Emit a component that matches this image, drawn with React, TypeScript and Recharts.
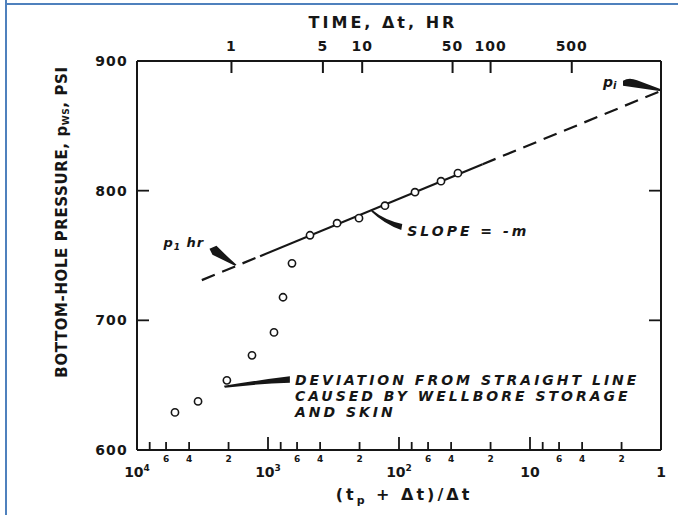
import React from 'react';
import { ComposedChart, XAxis, YAxis, Scatter, ReferenceDot } from 'recharts';

// Horner buildup plot: shut-in bottom-hole pressure vs. Horner time ratio
const producingTime = 1900; // t_p, hr

// Horner ratio (t_p + Δt)/Δt for each measured shut-in point
const hornerRatio = [5130, 3420, 2060, 1325, 900, 768, 656, 478, 297, 202, 128, 75.5, 47.8, 35.5];
// Measured shut-in pressure, psi
const shutInPressure = [629, 637.5, 653.7, 673, 690.7, 717.8, 744, 765.6, 774.9, 778.8, 788.4, 798.8, 807.3, 813.5];

// Semilog straight line: extrapolated (dashed) ends and the fitted (solid) middle
const lineRatio = [3200, 1150, 23, 1];
const linePressure = [731, 749.5, 820.4, 877];

// Annotation anchors
const initialPressure = 877; // p_i at ratio 1
const oneHourPressure = 740.5; // p_1hr at Δt = 1 hr
const slopeAnchorRatio = 160;
const slopeAnchorPressure = 785.1;
const deviationAnchorIndex = 2;

// Axis ticks
const pressureTicks = [600, 700, 800, 900];
const rightPressureTicks = [700, 800];
const hornerTicks = [1, 2, 4, 6, 8, 10, 20, 40, 60, 80, 100, 200, 400, 600, 800, 1000, 2000, 4000, 6000, 8000, 10000];
const shutInHourTicks = [1, 5, 10, 50, 100, 500];

const points = hornerRatio.map((r, i) => ({ r, p: shutInPressure[i] }));
const lineAll = lineRatio.map((r, i) => ({ r, p: linePressure[i] }));
const lineLeft = lineAll.slice(0, 2);
const lineMid = lineAll.slice(1, 3);
const lineRight = lineAll.slice(2, 4);
const topTicks = shutInHourTicks.map((h) => (producingTime + h) / h);

const INK = '#161616';
const FONT = '"DejaVu Sans", "Liberation Sans", sans-serif';

const HornerTick = (props: any) => {
  const { x, y, payload } = props;
  const v = payload.value;
  const e = Math.log10(v);
  const major = Math.abs(e - Math.round(e)) < 1e-6;
  const lead = Math.round(v / Math.pow(10, Math.floor(e + 1e-6)));
  let label: React.ReactNode = null;
  if (major) {
    const n = Math.round(e);
    label = (
      <text x={x} y={y + 27} textAnchor="middle" fontSize={14} fontWeight="bold" fill={INK} fontFamily={FONT}>
        {n === 0 ? '1' : '10'}
        {n >= 2 ? (
          <tspan fontSize={9} dy={-6}>
            {n}
          </tspan>
        ) : null}
      </text>
    );
  } else if (lead !== 8) {
    label = (
      <text x={x} y={y + 12} textAnchor="middle" fontSize={9} fontWeight="bold" fill={INK} fontFamily={FONT}>
        {lead}
      </text>
    );
  }
  return (
    <g>
      <line x1={x} x2={x} y1={y} y2={y - (major ? 13 : 8)} stroke={INK} strokeWidth={1.8} />
      {label}
    </g>
  );
};

const TimeTick = (props: any) => {
  const { x, y, payload } = props;
  const hours = Math.round(producingTime / (payload.value - 1));
  return (
    <g>
      <line x1={x} x2={x} y1={y} y2={y + 12} stroke={INK} strokeWidth={2} />
      <text x={x} y={y - 10} textAnchor="middle" fontSize={14} fontWeight="bold" fill={INK} fontFamily={FONT} letterSpacing={1}>
        {hours}
      </text>
    </g>
  );
};

const PressureTick = (props: any) => {
  const { x, y, payload } = props;
  const v = payload.value;
  const inner = v !== 600 && v !== 900;
  return (
    <g>
      {inner ? <line x1={x} x2={x + 12} y1={y} y2={y} stroke={INK} strokeWidth={1.8} /> : null}
      <text x={x - 9} y={y + 5} textAnchor="end" fontSize={14} fontWeight="bold" fill={INK} fontFamily={FONT} letterSpacing={1.2}>
        {v}
      </text>
    </g>
  );
};

const RightTick = (props: any) => {
  const { x, y } = props;
  return <line x1={x} x2={x - 12} y1={y} y2={y} stroke={INK} strokeWidth={1.8} />;
};

const Circle = (props: any) => (
  <circle cx={props.cx} cy={props.cy} r={3.6} fill="#fff" stroke={INK} strokeWidth={1.6} />
);
const Nothing = () => <g />;

const noteText = {
  fontSize: 14,
  fontWeight: 'bold' as const,
  fontStyle: 'italic' as const,
  fill: INK,
  fontFamily: FONT,
};

const PiNote = (props: any) => {
  const { cx, cy } = props;
  return (
    <g>
      <path
        d={`M ${cx - 38} ${cy - 5} L ${cx - 38} ${cy - 10} Q ${cx - 32} ${cy - 14} ${cx - 24} ${cy - 10.5} L ${cx} ${cy - 1.5} L ${cx} ${cy + 0.5} Z`}
        fill={INK}
      />
      <text x={cx - 58} y={cy - 4} {...noteText}>
        p
        <tspan fontSize={10} dy={2}>
          i
        </tspan>
      </text>
    </g>
  );
};

const OneHourNote = (props: any) => {
  const { cx, cy } = props;
  return (
    <g>
      <path
        d={`M ${cx - 22} ${cy - 19} L ${cx - 15} ${cy - 22} Q ${cx - 5} ${cy - 12} ${cx + 5} ${cy - 3} L ${cx + 3.5} ${cy - 2} L ${cx - 19} ${cy - 13} Z`}
        fill={INK}
      />
      <text x={cx - 68} y={cy - 21} {...noteText} fontSize={13} letterSpacing={1}>
        p
        <tspan fontSize={9} dy={3}>
          1
        </tspan>
        <tspan dy={-3}> hr</tspan>
      </text>
    </g>
  );
};

const SlopeNote = (props: any) => {
  const { cx, cy } = props;
  return (
    <g>
      <path
        d={`M ${cx} ${cy} Q ${cx + 12} ${cy + 10} ${cx + 30} ${cy + 14} L ${cx + 29} ${cy + 20} Q ${cx + 12} ${cy + 14} ${cx - 1} ${cy + 1.5} Z`}
        fill={INK}
      />
      <text x={cx + 35} y={cy + 26} {...noteText} letterSpacing={3}>
        SLOPE = -m
      </text>
    </g>
  );
};

const DeviationNote = (props: any) => {
  const { cx, cy } = props;
  return (
    <g>
      <path
        d={`M ${cx - 3} ${cy + 5.5} Q ${cx + 30} ${cy} ${cx + 63} ${cy - 4} L ${cx + 63} ${cy + 2.5} Q ${cx + 30} ${cy + 3.5} ${cx - 2} ${cy + 7.5} Z`}
        fill={INK}
      />
      <text x={cx + 68} y={cy + 5} {...noteText} letterSpacing={3}>
        DEVIATION FROM STRAIGHT LINE
      </text>
      <text x={cx + 68} y={cy + 21} {...noteText} letterSpacing={3}>
        CAUSED BY WELLBORE STORAGE
      </text>
      <text x={cx + 68} y={cy + 37} {...noteText} letterSpacing={3}>
        AND SKIN
      </text>
    </g>
  );
};

const titleText = {
  fontSize: 15,
  fontWeight: 'bold' as const,
  fill: INK,
  fontFamily: FONT,
};

const TopTitle = (props: any) => {
  const vb = props.viewBox;
  return (
    <text x={vb.x + 246} y={vb.y + 28} textAnchor="middle" {...titleText} fontSize={16} letterSpacing={3}>
      TIME, Δt, HR
    </text>
  );
};

const BottomTitle = (props: any) => {
  const vb = props.viewBox;
  return (
    <text x={vb.x + 267} y={vb.y + 50} textAnchor="middle" {...titleText} fontSize={16} letterSpacing={3}>
      (t
      <tspan fontSize={11} dy={4}>
        p
      </tspan>
      <tspan dy={-4}> + Δt)/Δt</tspan>
    </text>
  );
};

const LeftTitle = (props: any) => {
  const vb = props.viewBox;
  const x = 62;
  const y = vb.y + 161;
  return (
    <text x={x} y={y} transform={`rotate(-90 ${x} ${y})`} textAnchor="middle" dominantBaseline="central" {...titleText} letterSpacing={0.6}>
      BOTTOM-HOLE PRESSURE, p
      <tspan fontSize={9} dy={4}>
        WS
      </tspan>
      <tspan dy={-4}>, PSI</tspan>
    </text>
  );
};

const frame = { stroke: INK, strokeWidth: 2 };

export default function App() {
  const dev = points[deviationAnchorIndex];
  return (
    <div style={{ position: 'absolute', left: 0, top: 0, width: 678, height: 515, background: '#fff' }}>
      <ComposedChart width={678} height={515} margin={{ top: 0, right: 0, bottom: 0, left: 0 }}>
        <XAxis
          xAxisId="bottom"
          dataKey="r"
          type="number"
          scale="log"
          domain={[1, 10000]}
          reversed
          allowDataOverflow
          ticks={hornerTicks}
          interval={0}
          height={65}
          tickSize={0}
          tickMargin={0}
          tickLine={false}
          axisLine={frame}
          tick={<HornerTick />}
          label={BottomTitle}
        />
        <XAxis
          xAxisId="top"
          dataKey="r"
          orientation="top"
          type="number"
          scale="log"
          domain={[1, 10000]}
          reversed
          allowDataOverflow
          ticks={topTicks}
          interval={0}
          height={61}
          tickSize={0}
          tickMargin={0}
          tickLine={false}
          axisLine={frame}
          tick={<TimeTick />}
          label={TopTitle}
        />
        <YAxis
          yAxisId="left"
          dataKey="p"
          type="number"
          domain={[600, 900]}
          allowDataOverflow
          ticks={pressureTicks}
          interval={0}
          width={137}
          tickSize={0}
          tickMargin={0}
          tickLine={false}
          axisLine={frame}
          tick={<PressureTick />}
          label={LeftTitle}
        />
        <YAxis
          yAxisId="right"
          dataKey="p"
          orientation="right"
          type="number"
          domain={[600, 900]}
          allowDataOverflow
          ticks={rightPressureTicks}
          interval={0}
          width={17}
          tickSize={0}
          tickMargin={0}
          tickLine={false}
          axisLine={frame}
          tick={<RightTick />}
        />
        {/* the shut-in time scale shares the Horner domain; this keeps it tied to the data */}
        <Scatter
          xAxisId="top"
          yAxisId="right"
          data={points}
          fill="none"
          shape={<Nothing />}
          isAnimationActive={false}
        />
        <Scatter
          xAxisId="bottom"
          yAxisId="left"
          data={lineLeft}
          fill={INK}
          shape={<Nothing />}
          line={{ stroke: INK, strokeWidth: 2.2, strokeDasharray: '14 8' }}
          isAnimationActive={false}
        />
        <Scatter
          xAxisId="bottom"
          yAxisId="left"
          data={lineMid}
          fill={INK}
          shape={<Nothing />}
          line={{ stroke: INK, strokeWidth: 2.2 }}
          isAnimationActive={false}
        />
        <Scatter
          xAxisId="bottom"
          yAxisId="left"
          data={lineRight}
          fill={INK}
          shape={<Nothing />}
          line={{ stroke: INK, strokeWidth: 2.2, strokeDasharray: '14 8' }}
          isAnimationActive={false}
        />
        <Scatter
          xAxisId="bottom"
          yAxisId="left"
          data={points}
          fill="#fff"
          shape={<Circle />}
          isAnimationActive={false}
        />
        <ReferenceDot xAxisId="bottom" yAxisId="left" x={1} y={initialPressure} ifOverflow="visible" shape={PiNote} />
        <ReferenceDot
          xAxisId="bottom"
          yAxisId="left"
          x={producingTime + 1}
          y={oneHourPressure}
          ifOverflow="visible"
          shape={OneHourNote}
        />
        <ReferenceDot
          xAxisId="bottom"
          yAxisId="left"
          x={slopeAnchorRatio}
          y={slopeAnchorPressure}
          ifOverflow="visible"
          shape={SlopeNote}
        />
        <ReferenceDot xAxisId="bottom" yAxisId="left" x={dev.r} y={dev.p} ifOverflow="visible" shape={DeviationNote} />
      </ComposedChart>
      <div style={{ position: 'absolute', left: 5, top: 0, width: 2, height: 515, background: '#4f81bd' }} />
      <div style={{ position: 'absolute', left: 5, top: 3, width: 673, height: 2, background: '#4f81bd' }} />
    </div>
  );
}
